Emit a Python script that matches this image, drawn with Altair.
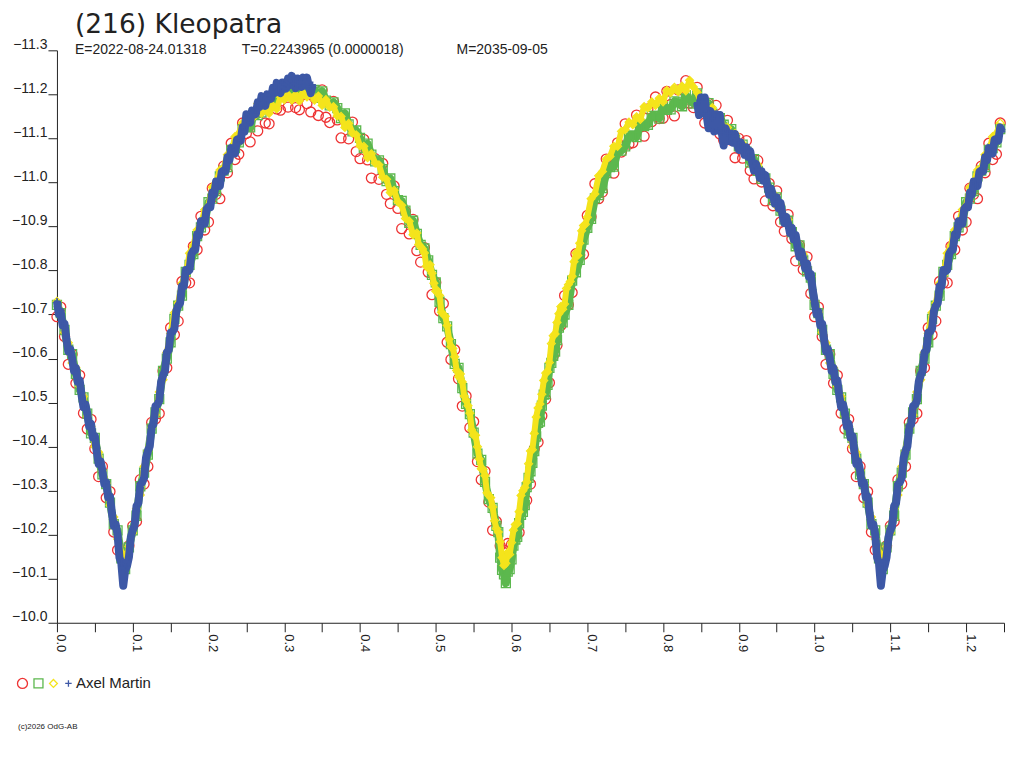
import altair as alt
import pandas as pd

# ---------------- text ----------------
title_text = ["(216) Kleopatra"]
sub_e = ["E=2022-08-24.01318"]
sub_t = ["T=0.2243965 (0.0000018)"]
sub_m = ["M=2035-09-05"]
footer_text = ["(c)2026 OdG-AB"]
observer = "Axel Martin"

# ---------------- series styling ----------------
series_names = ["red", "green", "yellow", "blue"]
series_colors = ["#ee3333", "#5cb84e", "#f4e41c", "#3d58a6"]
series_shapes = ["circle", "square", "diamond", "M-1,0H1M0,-1V1"]
series_sizes = [100, 42, 80, 80]

# ---------------- ticks ----------------
y_ticks = [-11.3, -11.2, -11.1, -11.0, -10.9, -10.8, -10.7, -10.6, -10.5,
           -10.4, -10.3, -10.2, -10.1, -10.0]
x_ticks = [0.0, 0.05, 0.1, 0.15, 0.2, 0.25, 0.3, 0.35, 0.4, 0.45, 0.5, 0.55,
           0.6, 0.65, 0.7, 0.75, 0.8, 0.85, 0.9, 0.95, 1.0, 1.05, 1.1, 1.15,
           1.2, 1.25]

# ---------------- data (phase, magnitude) ----------------
red_pts = [
    (0.000, -10.695), (0.005, -10.717), (0.010, -10.650), (0.015, -10.587), (0.020, -10.610),
    (0.025, -10.544), (0.030, -10.562), (0.035, -10.476), (0.040, -10.440), (0.045, -10.462),
    (0.050, -10.395), (0.055, -10.332), (0.060, -10.355), (0.065, -10.284), (0.070, -10.298),
    (0.075, -10.206), (0.080, -10.165), (0.085, -10.160), (0.090, -10.155), (0.095, -10.175),
    (0.100, -10.220), (0.105, -10.230), (0.110, -10.325), (0.115, -10.315), (0.120, -10.355),
    (0.125, -10.455), (0.130, -10.463), (0.135, -10.475), (0.140, -10.572), (0.145, -10.579),
    (0.150, -10.670), (0.155, -10.654), (0.160, -10.685), (0.165, -10.775), (0.170, -10.772),
    (0.175, -10.772), (0.180, -10.855), (0.185, -10.847), (0.190, -10.923), (0.195, -10.892),
    (0.200, -10.910), (0.205, -10.987), (0.210, -10.973), (0.215, -10.963), (0.220, -11.037),
    (0.225, -11.022), (0.230, -11.089), (0.235, -11.052), (0.240, -11.064), (0.245, -11.135),
    (0.250, -11.111), (0.255, -11.092), (0.260, -11.157), (0.265, -11.117), (0.270, -11.177),
    (0.275, -11.135), (0.280, -11.133), (0.285, -11.195), (0.290, -11.167), (0.295, -11.164),
    (0.300, -11.203), (0.305, -11.171), (0.310, -11.223), (0.315, -11.170), (0.320, -11.165),
    (0.325, -11.218), (0.330, -11.179), (0.335, -11.160), (0.340, -11.193), (0.345, -11.152),
    (0.350, -11.210), (0.355, -11.148), (0.360, -11.136), (0.365, -11.184), (0.370, -11.142),
    (0.375, -11.101), (0.380, -11.145), (0.385, -11.099), (0.390, -11.137), (0.395, -11.070),
    (0.400, -11.054), (0.405, -11.098), (0.410, -11.051), (0.415, -11.010), (0.420, -11.054),
    (0.425, -11.007), (0.430, -11.043), (0.435, -10.973), (0.440, -10.952), (0.445, -10.992),
    (0.450, -10.941), (0.455, -10.895), (0.460, -10.934), (0.465, -10.883), (0.470, -10.916),
    (0.475, -10.845), (0.480, -10.819), (0.485, -10.852), (0.490, -10.796), (0.495, -10.745),
    (0.500, -10.773), (0.505, -10.708), (0.510, -10.725), (0.515, -10.637), (0.520, -10.598),
    (0.525, -10.620), (0.530, -10.554), (0.535, -10.492), (0.540, -10.515), (0.545, -10.443),
    (0.550, -10.457), (0.555, -10.366), (0.560, -10.325), (0.565, -10.344), (0.570, -10.274),
    (0.575, -10.210), (0.580, -10.230), (0.585, -10.175), (0.590, -10.165), (0.595, -10.180),
    (0.600, -10.178), (0.605, -10.196), (0.610, -10.205), (0.615, -10.262), (0.620, -10.278),
    (0.625, -10.315), (0.630, -10.395), (0.635, -10.410), (0.640, -10.470), (0.645, -10.508),
    (0.650, -10.545), (0.655, -10.605), (0.660, -10.630), (0.665, -10.675), (0.670, -10.743),
    (0.675, -10.722), (0.680, -10.750), (0.685, -10.838), (0.690, -10.835), (0.695, -10.837),
    (0.700, -10.925), (0.705, -10.922), (0.710, -10.997), (0.715, -10.963), (0.720, -10.978),
    (0.725, -11.053), (0.730, -11.038), (0.735, -11.021), (0.740, -11.090), (0.745, -11.069),
    (0.750, -11.133), (0.755, -11.087), (0.760, -11.090), (0.765, -11.153), (0.770, -11.126),
    (0.775, -11.105), (0.780, -11.167), (0.785, -11.138), (0.790, -11.194), (0.795, -11.145),
    (0.800, -11.146), (0.805, -11.207), (0.810, -11.177), (0.815, -11.151), (0.820, -11.210),
    (0.825, -11.178), (0.830, -11.231), (0.835, -11.180), (0.840, -11.170), (0.845, -11.216),
    (0.850, -11.173), (0.855, -11.135), (0.860, -11.180), (0.865, -11.135), (0.870, -11.175),
    (0.875, -11.110), (0.880, -11.096), (0.885, -11.141), (0.890, -11.096), (0.895, -11.056),
    (0.900, -11.100), (0.905, -11.055), (0.910, -11.095), (0.915, -11.027), (0.920, -11.008),
    (0.925, -11.050), (0.930, -11.001), (0.935, -10.958), (0.940, -10.998), (0.945, -10.947),
    (0.950, -10.981), (0.955, -10.910), (0.960, -10.889), (0.965, -10.927), (0.970, -10.872),
    (0.975, -10.822), (0.980, -10.857), (0.985, -10.802), (0.990, -10.831), (0.995, -10.748),
]

green_pts = [
    (0.000, -10.722), (0.005, -10.703), (0.010, -10.665), (0.015, -10.620), (0.020, -10.610),
    (0.025, -10.565), (0.030, -10.529), (0.035, -10.512), (0.040, -10.475), (0.045, -10.430),
    (0.050, -10.420), (0.055, -10.373), (0.060, -10.337), (0.065, -10.315), (0.070, -10.273),
    (0.075, -10.224), (0.080, -10.210), (0.085, -10.146), (0.090, -10.122), (0.095, -10.171),
    (0.100, -10.210), (0.105, -10.243), (0.110, -10.310), (0.115, -10.341), (0.120, -10.382),
    (0.125, -10.441), (0.130, -10.478), (0.135, -10.508), (0.140, -10.572), (0.145, -10.600),
    (0.150, -10.637), (0.155, -10.690), (0.160, -10.720), (0.165, -10.743), (0.170, -10.797),
    (0.175, -10.813), (0.180, -10.837), (0.185, -10.878), (0.190, -10.898), (0.195, -10.910),
    (0.200, -10.955), (0.205, -10.963), (0.210, -10.980), (0.215, -11.014), (0.220, -11.027),
    (0.225, -11.035), (0.230, -11.074), (0.235, -11.078), (0.240, -11.091), (0.245, -11.121),
    (0.250, -11.126), (0.255, -11.125), (0.260, -11.157), (0.265, -11.153), (0.270, -11.159),
    (0.275, -11.181), (0.280, -11.183), (0.285, -11.178), (0.290, -11.207), (0.295, -11.200),
    (0.300, -11.200), (0.305, -11.217), (0.310, -11.213), (0.315, -11.203), (0.320, -11.225),
    (0.325, -11.209), (0.330, -11.201), (0.335, -11.210), (0.340, -11.210), (0.345, -11.192),
    (0.350, -11.207), (0.355, -11.186), (0.360, -11.175), (0.365, -11.182), (0.370, -11.169),
    (0.375, -11.146), (0.380, -11.157), (0.385, -11.132), (0.390, -11.116), (0.395, -11.118),
    (0.400, -11.101), (0.405, -11.078), (0.410, -11.088), (0.415, -11.063), (0.420, -11.048),
    (0.425, -11.050), (0.430, -11.030), (0.435, -11.003), (0.440, -11.009), (0.445, -10.980),
    (0.450, -10.960), (0.455, -10.958), (0.460, -10.936), (0.465, -10.908), (0.470, -10.913),
    (0.475, -10.883), (0.480, -10.858), (0.485, -10.850), (0.490, -10.823), (0.495, -10.790),
    (0.500, -10.773), (0.505, -10.729), (0.510, -10.692), (0.515, -10.673), (0.520, -10.633),
    (0.525, -10.588), (0.530, -10.579), (0.535, -10.533), (0.540, -10.497), (0.545, -10.474),
    (0.550, -10.432), (0.555, -10.384), (0.560, -10.370), (0.565, -10.320), (0.570, -10.281),
    (0.575, -10.261), (0.580, -10.220), (0.585, -10.148), (0.590, -10.110), (0.595, -10.116),
    (0.600, -10.144), (0.605, -10.189), (0.610, -10.226), (0.615, -10.252), (0.620, -10.308),
    (0.625, -10.344), (0.630, -10.390), (0.635, -10.454), (0.640, -10.493), (0.645, -10.519),
    (0.650, -10.579), (0.655, -10.606), (0.660, -10.642), (0.665, -10.684), (0.670, -10.700),
    (0.675, -10.722), (0.680, -10.777), (0.685, -10.796), (0.690, -10.824), (0.695, -10.870),
    (0.700, -10.897), (0.705, -10.917), (0.710, -10.964), (0.715, -10.971), (0.720, -10.987),
    (0.725, -11.021), (0.730, -11.035), (0.735, -11.036), (0.740, -11.072), (0.745, -11.072),
    (0.750, -11.082), (0.755, -11.105), (0.760, -11.107), (0.765, -11.103), (0.770, -11.133),
    (0.775, -11.128), (0.780, -11.131), (0.785, -11.151), (0.790, -11.151), (0.795, -11.145),
    (0.800, -11.173), (0.805, -11.165), (0.810, -11.166), (0.815, -11.184), (0.820, -11.182),
    (0.825, -11.173), (0.830, -11.198), (0.835, -11.188), (0.840, -11.179), (0.845, -11.202),
    (0.850, -11.188), (0.855, -11.168), (0.860, -11.180), (0.865, -11.156), (0.870, -11.142),
    (0.875, -11.146), (0.880, -11.131), (0.885, -11.109), (0.890, -11.121), (0.895, -11.097),
    (0.900, -11.082), (0.905, -11.086), (0.910, -11.070), (0.915, -11.045), (0.920, -11.053),
    (0.925, -11.026), (0.930, -11.008), (0.935, -11.009), (0.940, -10.988), (0.945, -10.960),
    (0.950, -10.966), (0.955, -10.936), (0.960, -10.916), (0.965, -10.913), (0.970, -10.887),
    (0.975, -10.855), (0.980, -10.857), (0.985, -10.823), (0.990, -10.798), (0.995, -10.784),
]

green_extra_pts = [
    (0.5825, -10.206), (0.5875, -10.120), (0.5925, -10.090), (0.5975, -10.122), (0.6025, -10.175),
    (0.6075, -10.195), (0.6125, -10.245), (0.6175, -10.267), (0.6225, -10.329), (0.6275, -10.363),
    (0.6325, -10.423), (0.6375, -10.457), (0.6425, -10.518), (0.6475, -10.540), (0.6525, -10.590),
    (0.6575, -10.616), (0.6625, -10.670), (0.6675, -10.682),
]

yellow_pts = [
    (0.000, -10.730), (0.005, -10.705), (0.010, -10.659), (0.015, -10.636), (0.020, -10.590),
    (0.025, -10.579), (0.030, -10.537), (0.035, -10.514), (0.040, -10.469), (0.045, -10.446),
    (0.050, -10.400), (0.055, -10.387), (0.060, -10.345), (0.065, -10.317), (0.070, -10.267),
    (0.075, -10.240), (0.080, -10.190), (0.085, -10.160), (0.090, -10.130), (0.095, -10.173),
    (0.100, -10.204), (0.105, -10.259), (0.110, -10.290), (0.115, -10.355), (0.120, -10.390),
    (0.125, -10.443), (0.130, -10.472), (0.135, -10.524), (0.140, -10.552), (0.145, -10.614),
    (0.150, -10.657), (0.155, -10.704), (0.160, -10.726), (0.165, -10.771), (0.170, -10.789),
    (0.175, -10.839), (0.180, -10.857), (0.185, -10.892), (0.190, -10.904), (0.195, -10.938),
    (0.200, -10.947), (0.205, -10.989), (0.210, -11.000), (0.215, -11.028), (0.220, -11.033),
    (0.225, -11.063), (0.230, -11.066), (0.235, -11.104), (0.240, -11.111), (0.245, -11.135),
    (0.250, -11.132), (0.255, -11.153), (0.260, -11.149), (0.265, -11.179), (0.270, -11.157),
    (0.275, -11.173), (0.280, -11.157), (0.285, -11.174), (0.290, -11.167), (0.295, -11.194),
    (0.300, -11.188), (0.305, -11.199), (0.310, -11.187), (0.315, -11.199), (0.320, -11.185),
    (0.325, -11.203), (0.330, -11.194), (0.335, -11.202), (0.340, -11.187), (0.345, -11.196),
    (0.350, -11.175), (0.355, -11.188), (0.360, -11.171), (0.365, -11.172), (0.370, -11.151),
    (0.375, -11.150), (0.380, -11.125), (0.385, -11.134), (0.390, -11.112), (0.395, -11.108),
    (0.400, -11.083), (0.405, -11.082), (0.410, -11.056), (0.415, -11.065), (0.420, -11.044),
    (0.425, -11.040), (0.430, -11.012), (0.435, -11.007), (0.440, -10.977), (0.445, -10.982),
    (0.450, -10.956), (0.455, -10.948), (0.460, -10.918), (0.465, -10.912), (0.470, -10.881),
    (0.475, -10.885), (0.480, -10.854), (0.485, -10.840), (0.490, -10.805), (0.495, -10.794),
    (0.500, -10.753), (0.505, -10.743), (0.510, -10.700), (0.515, -10.675), (0.520, -10.627),
    (0.525, -10.604), (0.530, -10.559), (0.535, -10.547), (0.540, -10.505), (0.545, -10.476),
    (0.550, -10.426), (0.555, -10.400), (0.560, -10.350), (0.565, -10.334), (0.570, -10.289),
    (0.575, -10.263), (0.580, -10.214), (0.585, -10.184), (0.590, -10.130), (0.595, -10.160),
    (0.600, -10.182), (0.605, -10.223), (0.610, -10.252), (0.615, -10.300), (0.620, -10.320),
    (0.625, -10.390), (0.630, -10.430), (0.635, -10.488), (0.640, -10.519), (0.645, -10.567),
    (0.650, -10.591), (0.655, -10.652), (0.660, -10.682), (0.665, -10.718), (0.670, -10.724),
    (0.675, -10.768), (0.680, -10.787), (0.685, -10.840), (0.690, -10.862), (0.695, -10.902),
    (0.700, -10.921), (0.705, -10.963), (0.710, -10.974), (0.715, -11.015), (0.720, -11.025),
    (0.725, -11.053), (0.730, -11.059), (0.735, -11.082), (0.740, -11.082), (0.745, -11.116),
    (0.750, -11.120), (0.755, -11.137), (0.760, -11.131), (0.765, -11.149), (0.770, -11.143),
    (0.775, -11.172), (0.780, -11.169), (0.785, -11.183), (0.790, -11.175), (0.795, -11.191),
    (0.800, -11.183), (0.805, -11.209), (0.810, -11.204), (0.815, -11.216), (0.820, -11.206),
    (0.825, -11.219), (0.830, -11.208), (0.835, -11.232), (0.840, -11.217), (0.845, -11.204),
    (0.850, -11.182), (0.855, -11.184), (0.860, -11.160), (0.865, -11.170), (0.870, -11.150),
    (0.875, -11.148), (0.880, -11.125), (0.885, -11.125), (0.890, -11.101), (0.895, -11.111),
    (0.900, -11.090), (0.905, -11.088), (0.910, -11.064), (0.915, -11.061), (0.920, -11.033),
    (0.925, -11.040), (0.930, -11.016), (0.935, -11.011), (0.940, -10.982), (0.945, -10.976),
    (0.950, -10.946), (0.955, -10.950), (0.960, -10.924), (0.965, -10.915), (0.970, -10.881),
    (0.975, -10.871), (0.980, -10.837), (0.985, -10.837), (0.990, -10.806), (0.995, -10.786),
]

yellow_extra_pts = [
    (0.4775, -10.859), (0.4825, -10.849), (0.4875, -10.810), (0.4925, -10.813), (0.4975, -10.771),
    (0.5025, -10.754), (0.5075, -10.705), (0.5125, -10.696), (0.5175, -10.644), (0.5225, -10.623),
    (0.5275, -10.573), (0.5325, -10.565), (0.5375, -10.515), (0.5425, -10.493), (0.5475, -10.438),
    (0.5525, -10.426), (0.5575, -10.372), (0.5625, -10.348), (0.5675, -10.295), (0.5725, -10.284),
    (0.5775, -10.232), (0.5825, -10.206), (0.5875, -10.148), (0.5925, -10.135), (0.5975, -10.155),
    (0.6025, -10.210), (0.6075, -10.225), (0.6125, -10.289), (0.6175, -10.307), (0.6225, -10.361),
    (0.6275, -10.393), (0.6325, -10.467), (0.6375, -10.497), (0.6425, -10.550), (0.6475, -10.570),
    (0.6525, -10.634), (0.6575, -10.656), (0.6625, -10.702), (0.6675, -10.712), (0.6725, -10.759),
    (0.6775, -10.775), (0.6825, -10.820), (0.6875, -10.834), (0.6925, -10.890), (0.6975, -10.905),
]

blue_pts = [
    (0.845, -11.181), (0.8475, -11.153), (0.850, -11.193), (0.8525, -11.157), (0.855, -11.193),
    (0.8575, -11.152), (0.860, -11.123), (0.8625, -11.162), (0.865, -11.145), (0.8675, -11.116),
    (0.870, -11.155), (0.8725, -11.118), (0.875, -11.153), (0.8775, -11.113), (0.880, -11.084),
    (0.8825, -11.123), (0.885, -11.111), (0.8875, -11.094), (0.890, -11.111), (0.8925, -11.090),
    (0.895, -11.110), (0.8975, -11.087), (0.900, -11.074), (0.9025, -11.091), (0.905, -11.080),
    (0.9075, -11.063), (0.910, -11.080), (0.9125, -11.058), (0.915, -11.071), (0.9175, -11.046),
    (0.920, -11.027), (0.9225, -11.043), (0.925, -11.030), (0.9275, -11.011), (0.930, -11.026),
    (0.9325, -11.004), (0.935, -11.017), (0.9375, -10.992), (0.940, -10.972), (0.9425, -10.986),
    (0.945, -10.972), (0.9475, -10.952), (0.950, -10.966), (0.9525, -10.942), (0.955, -10.954),
    (0.9575, -10.928), (0.960, -10.908), (0.9625, -10.922), (0.965, -10.907), (0.9675, -10.885),
    (0.970, -10.897), (0.9725, -10.871), (0.975, -10.881), (0.9775, -10.853), (0.980, -10.831),
    (0.9825, -10.843), (0.985, -10.827), (0.9875, -10.805), (0.990, -10.816), (0.9925, -10.786),
    (0.995, -10.792), (0.9975, -10.756),
    (0.000, -10.730), (0.0025, -10.701), (0.005, -10.707), (0.0075, -10.675), (0.010, -10.679),
    (0.0125, -10.644), (0.015, -10.616), (0.0175, -10.622), (0.020, -10.600), (0.0225, -10.572),
    (0.025, -10.579), (0.0275, -10.547), (0.030, -10.551), (0.0325, -10.517), (0.035, -10.490),
    (0.0375, -10.496), (0.040, -10.475), (0.0425, -10.446), (0.045, -10.452), (0.0475, -10.420),
    (0.050, -10.424), (0.0525, -10.389), (0.055, -10.361), (0.0575, -10.367), (0.060, -10.345),
    (0.0625, -10.315), (0.065, -10.319), (0.0675, -10.285), (0.070, -10.287), (0.0725, -10.250),
    (0.075, -10.220), (0.0775, -10.224), (0.080, -10.200), (0.0825, -10.148), (0.085, -10.135),
    (0.0875, -10.084), (0.090, -10.119), (0.0925, -10.129), (0.095, -10.149), (0.0975, -10.194),
    (0.100, -10.210), (0.1025, -10.221), (0.105, -10.265), (0.1075, -10.272), (0.110, -10.314),
    (0.1125, -10.319), (0.115, -10.329), (0.1175, -10.374), (0.120, -10.390), (0.1225, -10.401),
    (0.125, -10.445), (0.1275, -10.451), (0.130, -10.492), (0.1325, -10.495), (0.135, -10.504),
    (0.1375, -10.547), (0.140, -10.562), (0.1425, -10.571), (0.145, -10.614), (0.1475, -10.619),
    (0.150, -10.659), (0.1525, -10.661), (0.155, -10.668), (0.1575, -10.708), (0.160, -10.720),
    (0.1625, -10.726), (0.165, -10.765), (0.1675, -10.765), (0.170, -10.801), (0.1725, -10.798),
    (0.175, -10.801), (0.1775, -10.837), (0.180, -10.845), (0.1825, -10.847), (0.185, -10.882),
    (0.1875, -10.879), (0.190, -10.912), (0.1925, -10.906), (0.195, -10.906), (0.1975, -10.940),
    (0.200, -10.945), (0.2025, -10.944), (0.205, -10.977), (0.2075, -10.972), (0.210, -11.002),
    (0.2125, -10.994), (0.215, -10.992), (0.2175, -11.024), (0.220, -11.027), (0.2225, -11.025),
    (0.225, -11.057), (0.2275, -11.050), (0.230, -11.078), (0.2325, -11.069), (0.235, -11.066),
    (0.2375, -11.097), (0.240, -11.099), (0.2425, -11.095), (0.245, -11.125), (0.2475, -11.115),
    (0.250, -11.155), (0.2525, -11.143), (0.255, -11.136), (0.2575, -11.163), (0.260, -11.162),
    (0.2625, -11.155), (0.265, -11.182), (0.2675, -11.171), (0.270, -11.196), (0.2725, -11.182),
    (0.275, -11.174), (0.2775, -11.200), (0.280, -11.198), (0.2825, -11.190), (0.285, -11.215),
    (0.2875, -11.203), (0.290, -11.226), (0.2925, -11.212), (0.295, -11.203), (0.2975, -11.227),
    (0.300, -11.223), (0.3025, -11.213), (0.305, -11.236), (0.3075, -11.221), (0.310, -11.242),
    (0.3125, -11.225), (0.315, -11.214), (0.3175, -11.236), (0.320, -11.230), (0.3225, -11.217),
    (0.325, -11.238), (0.3275, -11.220), (0.330, -11.238), (0.3325, -11.218), (0.335, -11.203),
    (0.3375, -11.222),
]

# ---------------- assemble (phase-folded, phases < 0.25 repeated after 1.0) ----------------
groups = [
    ("red", [red_pts]),
    ("green", [green_pts, green_extra_pts]),
    ("yellow", [yellow_pts, yellow_extra_pts]),
    ("blue", [blue_pts]),
]
rows = []
for name, lists in groups:
    pts = [p for lst in lists for p in lst]
    for ph, m in pts:
        rows.append({"phase": ph, "mag": m, "series": name})
    for ph, m in pts:
        if ph < 0.25:
            rows.append({"phase": ph + 1.0, "mag": m, "series": name})
df = pd.DataFrame(rows)
# blue has two separate stretches of phase: keep their connecting trails apart
df["seg"] = ["b" if (s == "blue" and p > 0.5) else "a" for s, p in zip(df["series"], df["phase"])]

AX = "#222222"

x_enc = alt.X(
    "phase:Q",
    scale=alt.Scale(domain=[0, 1.25], nice=False, zero=False),
    axis=alt.Axis(
        title=None, values=x_ticks, grid=False,
        labelExpr="abs(datum.value * 10 - round(datum.value * 10)) < 0.001 ? format(datum.value, '.1f') : ''",
        labelAngle=90, labelAlign="left", labelBaseline="alphabetic",
        labelPadding=2, labelFontSize=13, tickSize=9,
        labelOverlap=False, labelFlush=False,
    ),
)
y_enc = alt.Y(
    "mag:Q",
    scale=alt.Scale(domain=[-11.3, -10.0], reverse=True, nice=False, zero=False),
    axis=alt.Axis(
        title=None, values=y_ticks, format=".1f", grid=False,
        tickSize=9, labelPadding=1, labelFontSize=14,
        labelBaseline="alphabetic", labelOffset=-2, labelOverlap=False,
        labelFlush=False,
    ),
)

legend = alt.Legend(
    title=None, orient="none", legendX=-42, legendY=626, direction="horizontal",
    columns=4, labelOffset=0, columnPadding=-10, rowPadding=0, padding=0,
    symbolStrokeWidth=1.3, labelFont="Liberation Sans", labelFontSize=15,
    labelColor=AX,
    labelExpr="datum.value == 'blue' ? '\u00a0" + observer + "' : ''",
)
color_enc = alt.Color("series:N", scale=alt.Scale(domain=series_names, range=series_colors), legend=legend)
shape_enc = alt.Shape("series:N", scale=alt.Scale(domain=series_names, range=series_shapes), legend=legend)
size_enc = alt.Size("series:N", scale=alt.Scale(domain=series_names, range=series_sizes), legend=legend)

base = alt.Chart(df)


def point_layer(name, sw=1.3):
    return base.transform_filter(alt.datum.series == name).mark_point(
        filled=False, strokeWidth=sw, opacity=1
    ).encode(x=x_enc, y=y_enc, color=color_enc, shape=shape_enc, size=size_enc)


def trail_layer(name, colour, width):
    return base.transform_filter(alt.datum.series == name).mark_line(
        color=colour, strokeWidth=width, opacity=1, strokeJoin="round"
    ).encode(x=x_enc, y=y_enc, detail="seg:N")


title_layer = alt.Chart(pd.DataFrame({"t": title_text})).mark_text(
    align="left", baseline="alphabetic", font="DejaVu Sans", fontSize=26.5, color=AX
).encode(x=alt.value(18), y=alt.value(-17.5), text="t:N")

sub_style = dict(align="left", baseline="alphabetic", font="Liberation Sans", fontSize=14, color=AX)
sub_e_layer = alt.Chart(pd.DataFrame({"t": sub_e})).mark_text(**sub_style).encode(
    x=alt.value(18), y=alt.value(3.5), text="t:N")
sub_t_layer = alt.Chart(pd.DataFrame({"t": sub_t})).mark_text(**sub_style).encode(
    x=alt.value(185), y=alt.value(3.5), text="t:N")
sub_m_layer = alt.Chart(pd.DataFrame({"t": sub_m})).mark_text(**sub_style).encode(
    x=alt.value(400), y=alt.value(3.5), text="t:N")

footer_layer = alt.Chart(pd.DataFrame({"t": footer_text})).mark_text(
    align="left", baseline="alphabetic", font="Liberation Sans", fontSize=8, color=AX
).encode(x=alt.value(-39), y=alt.value(679), text="t:N")

chart = alt.layer(
    point_layer("red"),
    trail_layer("green", series_colors[1], 8),
    point_layer("green"),
    trail_layer("yellow", series_colors[2], 6),
    point_layer("yellow"),
    trail_layer("blue", series_colors[3], 8),
    point_layer("blue", 1.5),
    title_layer, sub_e_layer, sub_t_layer, sub_m_layer, footer_layer,
).properties(
    width=948, height=573,
    autosize=alt.AutoSizeParams(type="none"),
    padding={"left": 49, "top": 42, "right": 12, "bottom": 130},
    background="white",
).configure_view(stroke="transparent").configure_axis(
    domainColor=AX, tickColor=AX, labelColor=AX, labelFont="Liberation Sans",
    domainWidth=1, tickWidth=1,
)

chart.save("out.html", embed_options={"renderer": "svg", "actions": False})
